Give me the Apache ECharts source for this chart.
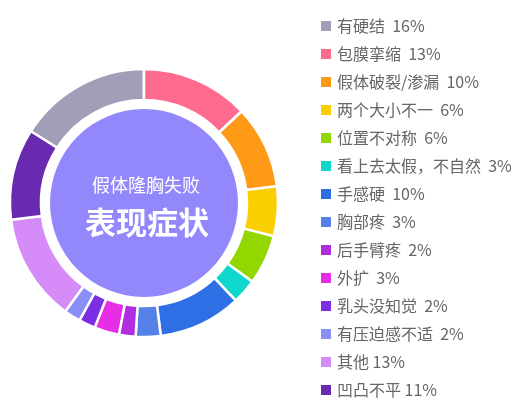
<!DOCTYPE html>
<html><head><meta charset="utf-8">
<script src="https://cdn.jsdelivr.net/npm/echarts@6/dist/echarts.min.js"></script>
<style>html,body{margin:0;padding:0;background:#fff}#c{width:531px;height:412px}</style>
</head><body><div id="c"></div>
<script>
const categories = ['有硬结','包膜挛缩','假体破裂/渗漏','两个大小不一','位置不对称','看上去太假，不自然','手感硬','胸部疼','后手臂疼','外扩','乳头没知觉','有压迫感不适','其他','凹凸不平'];
const values = [16,13,10,6,6,3,10,3,2,3,2,2,13,11];
const colors = ['#a19fb7','#ff6b8f','#ff9a17','#f9cf00','#93d600','#0dd8cb','#2f6fe6','#5580e8','#b02de0','#e62ee6','#7b2ee3','#8a8ff7','#d58bf8','#6a2ab0'];
const titleLine1 = '假体隆胸失败';
const titleLine2 = '表现症状';

const chart = echarts.init(document.getElementById('c'));
const cx = 144, cy = 203;
chart.setOption({
  animation: false,
  color: colors,
  legend: {
    orient: 'vertical', left: 314, top: 13, data: categories,
    icon: 'rect', itemWidth: 12, itemHeight: 12, itemGap: 12,
    textStyle: { fontSize: 16, color: '#666', fontFamily: 'Noto Sans CJK SC' },
    formatter: function (name) {
      const i = categories.indexOf(name);
      return name + (i >= 12 ? ' ' : '  ') + values[i] + '%';
    }
  },
  graphic: [
    { type: 'text', z: 100, x: cx + 2, y: cy - 18, style: { text: titleLine1, fill: '#fff', font: '18px "Noto Sans CJK SC"', align: 'center', verticalAlign: 'middle' } },
    { type: 'text', z: 100, x: cx + 3, y: cy + 19, style: { text: titleLine2, fill: '#fff', font: 'bold 31px "Noto Sans CJK SC"', align: 'center', verticalAlign: 'middle' } }
  ],
  series: [
    {
      type: 'pie', silent: true, radius: [0, 94], center: [cx, cy], z: 1,
      label: { show: false }, labelLine: { show: false },
      itemStyle: { color: '#9288fb' },
      data: [{ value: 1, name: 'center' }],
      legendHoverLink: false
    },
    {
      type: 'pie', radius: [103, 134], center: [cx, cy],
      startAngle: 147.6, clockwise: true,
      label: { show: false }, labelLine: { show: false },
      itemStyle: { borderColor: '#fff', borderWidth: 2.5 },
      data: categories.map((n, i) => ({ name: n, value: values[i] }))
    }
  ]
});
</script></body></html>
